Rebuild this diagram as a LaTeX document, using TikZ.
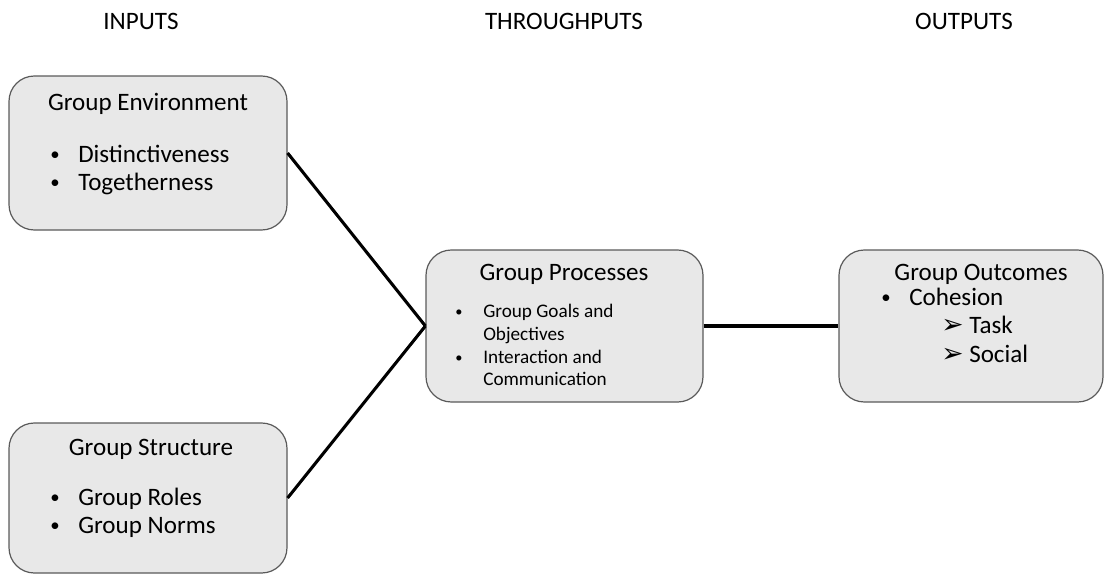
\documentclass[tikz,border=0pt]{standalone}
\usepackage{fontspec}
\setmainfont{Carlito}
\newfontfamily\symfont{DejaVu Sans}
\definecolor{boxfill}{RGB}{232,232,232}
\definecolor{boxline}{RGB}{90,90,90}
\newcommand\bul{\makebox[21pt][l]{\raisebox{0.1ex}{\scalebox{0.75}{\textbullet}}}}
\newcommand\arr{\makebox[21pt][l]{{\symfont\fontsize{20}{20}\selectfont ➢}}}
\tikzset{
  box/.style={draw=boxline, line width=0.9pt, fill=boxfill, rounded corners=19pt},
  txt/.style={inner sep=0pt, font=\fontsize{18.8}{22}\selectfont},
  small/.style={inner sep=0pt, font=\fontsize{14.4}{17}\selectfont},
  link/.style={line width=2.3pt, black}
}
\begin{document}
\begin{tikzpicture}[x=0.75pt,y=-0.75pt]
  \useasboundingbox (0,0) rectangle (1107,575);
  % headings
  \node[txt, anchor=base] (hin) at (141,29) {INPUTS};
  \node[txt, anchor=base] (hthr) at (564,29) {THROUGHPUTS};
  \node[txt, anchor=base] (hout) at (964,29) {OUTPUTS};
  % boxes
  \node[box, minimum width=208.5pt, minimum height=115.5pt] (env) at (148,153) {};
  \node[box, minimum width=208.5pt, minimum height=112.5pt] (struct) at (148,498) {};
  \node[box, minimum width=207.75pt, minimum height=114pt] (proc) at (564.5,326) {};
  \node[box, minimum width=198pt, minimum height=114pt] (outc) at (971,326) {};
  % connectors
  \coordinate (join) at (proc.west);
  \draw[link] (env.east) -- (join);
  \draw[link] (struct.east) -- (join);
  \draw[link] (proc.east) -- (outc.west);
  % group environment
  \node[txt, anchor=base] (envtitle) at (148,110) {Group Environment};
  \node[txt, anchor=base west] (enva) at (50,162) {\bul Distinctiveness};
  \node[txt, anchor=base west] (envb) at (50,190) {\bul Togetherness};
  % group structure
  \node[txt, anchor=base] (sttitle) at (151,455) {Group Structure};
  \node[txt, anchor=base west] (sta) at (50,505) {\bul Group Roles};
  \node[txt, anchor=base west] (stb) at (50,533) {\bul Group Norms};
  % group processes
  \node[txt, anchor=base] (prtitle) at (564,280) {Group Processes};
  \node[small, anchor=base west] (pra) at (455,317) {\bul Group Goals and};
  \node[small, anchor=base west] (prb) at (483,340) {Objectives};
  \node[small, anchor=base west] (prc) at (455,363) {\bul Interaction and};
  \node[small, anchor=base west] (prd) at (483,385) {Communication};
  % group outcomes
  \node[txt, anchor=base] (outtitle) at (981,280) {Group Outcomes};
  \node[txt, anchor=base west] (outa) at (881,305) {\bul Cohesion};
  \node[txt, anchor=base west] (outb) at (941,333) {\arr Task};
  \node[txt, anchor=base west] (outc2) at (941,362) {\arr Social};
\end{tikzpicture}
\end{document}
